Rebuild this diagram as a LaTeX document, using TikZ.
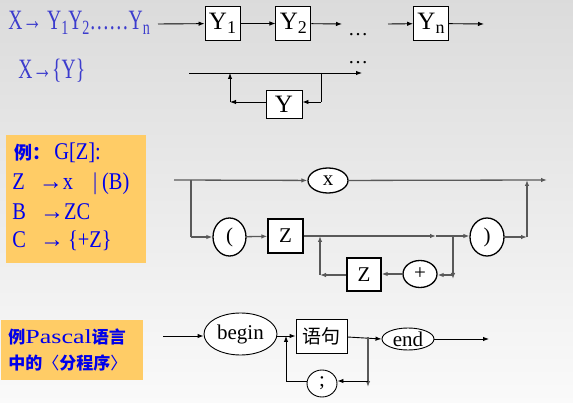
\documentclass[tikz,border=0pt]{standalone}
\usepackage{fontspec}
\usepackage{graphicx}
\setmainfont{Liberation Serif}
\newfontfamily\cjkfont{Noto Sans CJK SC}
\usetikzlibrary{arrows.meta,shapes.geometric,positioning}
\definecolor{ruleblue}{RGB}{60,60,205}
\definecolor{noteblue}{RGB}{0,0,235}
\definecolor{notegold}{RGB}{255,204,102}
\newcommand{\lowidx}[1]{\raisebox{-0.35ex}{\scalebox{0.72}{#1}}}
\newcommand{\narrow}[1]{\scalebox{0.7}[1]{#1}}
\newcommand{\slim}[1]{\scalebox{0.85}[1]{#1}}
\tikzstyle{sym box}=[
        draw = black,
        fill = white,
        inner sep = 0pt,
        font = \fontsize{21}{24}\selectfont
    ]
\tikzstyle{sym oval}=[
        draw = black,
        ellipse,
        fill = white,
        inner sep = 0pt,
        font = \fontsize{21}{24}\selectfont
    ]
\tikzstyle{flow}=[-{Latex[length=6pt,width=4.5pt]}]
\tikzstyle{rule text}=[text = ruleblue, anchor = base west, inner sep = 0pt,
        font = \fontsize{28}{32}\selectfont]
\tikzstyle{note text}=[text = noteblue, anchor = base west, inner sep = 0pt,
        font = \fontsize{24}{28}\selectfont]

\begin{document}
\begin{tikzpicture}[x=1pt, y=-1pt, line width=0.9pt]
        \useasboundingbox (0,0) rectangle (573,403);
        \shade[top color=gray!28, bottom color=gray!4] (0,0) rectangle (573,403);

        % X -> Y1 Y2 ... Yn
        \node[rule text] (seqrule) at (8,30) {\narrow{X→ Y\lowidx{1}Y\lowidx{2}……Y\lowidx{n}}};
        \coordinate (seqin) at (158,24);
        \node[sym box, minimum width=35pt, minimum height=34pt, font=\fontsize{25}{28}\selectfont] (Y1) at (222.5,23.5) {Y\lowidx{1}};
        \node[sym box, minimum width=35pt, minimum height=34pt, font=\fontsize{25}{28}\selectfont] (Y2) [right=35pt of Y1] {Y\lowidx{2}};
        \coordinate (seqgap) at (342,24);
        \node[font=\fontsize{20}{20}\selectfont] (seqdots) at (358,35) {…};
        \coordinate (seqresume) at (388,24);
        \node[sym box, minimum width=35pt, minimum height=34pt, font=\fontsize{25}{28}\selectfont] (Yn) at (431,23.5) {Y\lowidx{n}};
        \coordinate (seqout) at (484,24);

        \draw[flow] (seqin) -- (Y1);
        \draw[flow] (Y1) -- (Y2);
        \draw[flow] (Y2) -- (seqgap);
        \draw[flow] (seqresume) -- (Yn);
        \draw[flow] (Yn) -- (seqout);

        % X -> {Y}
        \node[rule text] (reprule) at (18,79) {\narrow{X→\{Y\}}};
        \node[font=\fontsize{20}{20}\selectfont] (repdots) at (358,63) {…};
        \coordinate (repin) at (189,73);
        \coordinate (repout) at (362,73);
        \coordinate (repsplit) at (321,73);
        \coordinate (repdown) at (321,102);
        \node[sym box, minimum width=36pt, minimum height=28pt, font=\fontsize{25}{28}\selectfont] (Y) at (284,104) {Y};
        \coordinate (repback) at (230,102);
        \coordinate (repjoin) at (230,73);

        \draw[flow] (repin) -- (repout);
        \draw (repsplit) -- (repdown);
        \draw[flow] (repdown) -- (Y.east |- repdown);
        \draw[flow] (Y.west |- repback) -- (repback);
        \draw[flow] (repback) -- (repjoin);

        % grammar G[Z]
        \fill[notegold] (6,135) rectangle (146,263);
        \node[note text] (gtitle) at (14,160) {{\cjkfont\bfseries\fontsize{18}{18}\selectfont 例：}\hspace{4pt}\slim{G[Z]:}};
        \node[note text] (gZ) at (12,190) {\slim{Z}\hspace{14pt}→\slim{x}\hspace{20pt}\slim{|}\hspace{5pt}\slim{(B)}};
        \node[note text] (gB) at (12,220) {\slim{B}\hspace{14pt}→\slim{ZC}};
        \node[note text] (gC) at (12,248) {\slim{C}\hspace{14pt}→\,\slim{\{+Z\}}};

        % Z -> x | (B), B -> ZC, C -> {+Z}
        \begin{scope}[draw=black!65, line width=1.3pt]
        \coordinate (zin) at (174,180);
        \node[sym oval, minimum width=40pt, minimum height=25pt] (x) at (328,180.5) {x};
        \coordinate (zout) at (547,180);
        \coordinate (zsplit) at (191,180);
        \coordinate (zdown) at (191,237);
        \node[sym oval, minimum width=33pt, minimum height=38pt] (lp) at (229.5,237) {(};
        \node[sym box, minimum width=35pt, minimum height=34pt] (Z1) at (285.5,236) {Z};
        \coordinate (zmid) at (436,236);
        \node[sym oval, minimum width=34pt, minimum height=38pt] (rp) at (487,237) {)};
        \coordinate (zup) at (527,237);
        \coordinate (zupjoin) at (527,180);
        \coordinate (zloopsplit) at (453,236);
        \coordinate (zloopdown) at (453,279);
        \coordinate (zloopturn) at (453,275);
        \node[sym oval, minimum width=34pt, minimum height=27pt] (plus) at (420,274) {+};
        \node[sym box, minimum width=34pt, minimum height=33pt] (Z2) at (364,274.5) {Z};
        \coordinate (zback) at (320,275);
        \coordinate (zjoin) at (320,236);

        \draw[flow] (zin) -- (x);
        \draw[flow] (x) -- (zout);
        \draw (zsplit) -- (zdown);
        \draw[flow] (zdown) -- (lp);
        \draw[flow] (lp) -- (Z1);
        \draw[flow] (Z1) -- (zmid);
        \draw[flow] (zmid) -- (rp.west |- zmid);
        \draw[flow] (rp) -- (zup);
        \draw[flow] (zup) -- (zupjoin);
        \draw[flow] (zloopsplit) -- (zloopdown);
        \draw[flow] (zloopturn) -- (plus.east |- zloopturn);
        \draw[flow] (plus) -- (Z2.east |- plus);
        \draw[flow] (Z2.west |- zback) -- (zback);
        \draw[flow] (zback) -- (zjoin);
        \end{scope}

        % Pascal block
        \fill[notegold] (1,320) rectangle (143,380);
        \node[note text, font=\cjkfont\bfseries\fontsize{17}{20}\selectfont] (ptitle) at (8,343)
            {例{\rmfamily\mdseries\fontsize{20}{20}\selectfont\scalebox{1.3}[1]{Pascal}}语言};
        \node[note text, font=\cjkfont\bfseries\fontsize{17}{20}\selectfont] (psub) at (8,370)
            {中的{\mdseries 〈}分程序{\mdseries 〉}};

        \coordinate (bin) at (163,336);
        \node[sym oval, minimum width=73pt, minimum height=42pt] (begin) at (240.5,334) {begin};
        \node[sym box, minimum width=51pt, minimum height=34pt, font=\cjkfont\fontsize{19}{22}\selectfont] (stmt) at (321.5,336) {语句};
        \node[sym oval, minimum width=52pt, minimum height=22pt] (end) at (408,339) {end};
        \coordinate (bout) at (489,339);
        \coordinate (bsplit) at (368,337);
        \coordinate (bdown) at (368,387);
        \coordinate (bturn) at (368,381);
        \node[sym oval, minimum width=30pt, minimum height=27pt] (semi) at (322,383.5) {;};
        \coordinate (bcorner) at (286,381);
        \coordinate (bjoin) at (286,336);

        \draw[flow] (bin) -- (begin.west |- bin);
        \draw[flow] (begin.east |- bin) -- (stmt.west |- bin);
        \draw[flow] (stmt.east |- bsplit) -- (end.west);
        \draw[flow] (end) -- (bout);
        \draw[flow, draw=black!65, line width=1.3pt] (bsplit) -- (bdown);
        \draw[flow] (bturn) -- (semi.east |- bturn);
        \draw (semi.west |- bcorner) -- (bcorner);
        \draw[flow] (bcorner) -- (bjoin);
    \end{tikzpicture}
\end{document}
